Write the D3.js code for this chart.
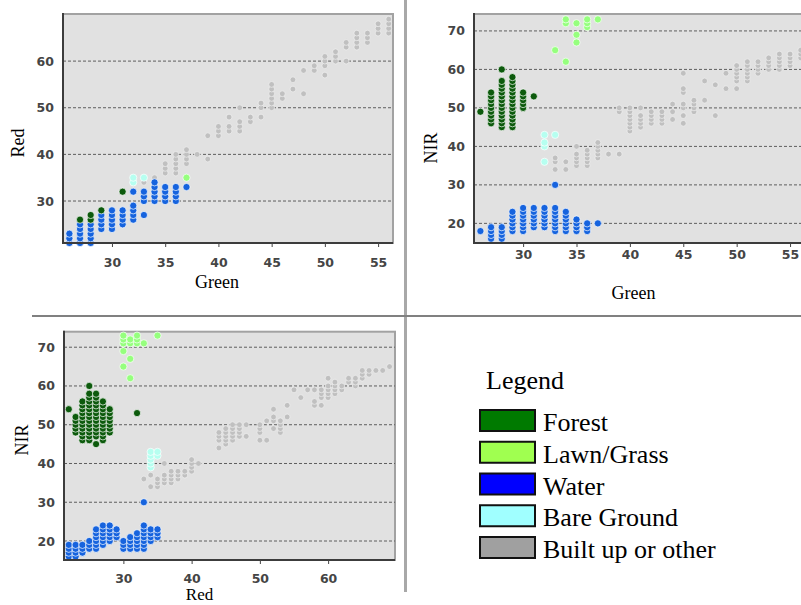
<!DOCTYPE html>
<html>
<head>
<meta charset="utf-8">
<script src="https://cdn.jsdelivr.net/npm/d3@7"></script>
<style>
  body { margin: 0; background: #fff; }
  svg { display: block; }
</style>
</head>
<body>
<svg id="viz" width="801" height="605"></svg>
<script>
// land cover classes and colours
const classes = ["Forest", "Lawn/Grass", "Water", "Bare Ground", "Built up or other"];
const legendColors = ["#007a00", "#a0ff50", "#0000ff", "#a0ffff", "#a0a0a0"];
const pointColors = ["#0b5a0b", "#96ff7e", "#1463de", "#b6fff0", "#c0c0c0"];

// each entry: [x value, [y values stacked in that column]]
// Green (x) vs Red (y)
const greenRedForest = [[27, [26]], [28, [26, 27]], [29, [28]], [31, [32]]];
const greenRedLawn = [[37, [35]]];
const greenRedWater = [[26, [21, 22, 23]], [27, [21, 22, 23, 24, 25]], [28, [21, 22, 23, 24, 25]],
  [29, [24, 25, 26, 27]], [30, [24, 25, 26, 27, 28]], [31, [25, 26, 27, 28]], [32, [26, 27, 28, 29, 32]],
  [33, [27, 30, 31, 32]], [34, [30, 31, 32, 33, 34]], [35, [30, 31, 32, 33]], [36, [30, 31, 32, 33]], [37, [33]]];
const greenRedBare = [[32, [34, 35]], [33, [35]]];
const greenRedBuilt = [[33, [34]], [34, [35]], [35, [36, 37, 38]], [36, [36, 37, 38, 39, 40]], [37, [38, 39, 40, 41]],
  [38, [40]], [39, [39, 44]], [40, [44, 45, 46]], [41, [45, 46, 48]], [42, [45, 46, 47, 50]], [43, [47, 48]],
  [44, [48, 50, 51]], [45, [50, 51, 52, 53, 54, 55]], [46, [52, 53]], [47, [54, 56]], [48, [53, 58]], [49, [58, 59]],
  [50, [57, 59, 60, 61]], [51, [60, 61, 62]], [52, [60, 63, 64]], [53, [63, 64, 65, 66]], [54, [64, 65, 66]],
  [55, [66, 67, 68]], [56, [66, 67, 68, 69]]];

// Green (x) vs NIR (y)
const greenNirForest = [[26, [49]], [27, [46, 47, 48, 49, 50, 51, 52, 53, 54]],
  [28, [45, 46, 47, 48, 49, 50, 51, 52, 53, 54, 55, 56, 57, 60]],
  [29, [45, 46, 47, 48, 49, 50, 51, 52, 53, 54, 55, 56, 57, 58]], [30, [50, 51, 52, 53, 54]], [31, [53]]];
const greenNirLawn = [[33, [65]], [34, [62, 72, 73]], [35, [67, 69, 72]], [36, [71, 72, 73]], [37, [73]]];
const greenNirWater = [[26, [18]], [27, [16, 17, 18, 19]], [28, [16, 17, 18, 19]], [29, [18, 19, 20, 21, 22, 23]],
  [30, [18, 19, 20, 21, 22, 23, 24]], [31, [19, 20, 21, 22, 23, 24]], [32, [19, 20, 21, 22, 23, 24]],
  [33, [18, 19, 20, 21, 22, 23, 24, 30]], [34, [18, 19, 20, 21, 22, 23]], [35, [18, 19, 20, 21]],
  [36, [18, 19, 20]], [37, [20]]];
const greenNirBare = [[32, [36, 40, 41, 43]], [33, [43]]];
const greenNirBuilt = [[33, [34, 36, 37]], [34, [34, 36]], [35, [35, 36, 37, 38, 40]], [36, [35, 36, 37, 38, 39]],
  [37, [37, 38, 39, 40, 41]], [38, [38]], [39, [38, 49, 50]], [40, [44, 45, 46, 47, 48, 49, 50]],
  [41, [45, 46, 47, 48, 50]], [42, [46, 47, 48, 49]], [43, [46, 47, 48, 49]], [44, [47, 49, 51]],
  [45, [46, 48, 50, 51, 54, 55, 59]], [46, [49, 50, 51, 52]], [47, [52, 57]], [48, [48, 56]], [49, [55, 59]],
  [50, [55, 57, 58, 59, 60, 61]], [51, [57, 58, 59, 60, 61, 62]], [52, [59, 60, 61, 62]], [53, [60, 61, 62, 63]],
  [54, [60, 61, 62, 63, 64]], [55, [61, 62, 63, 64]], [56, [63, 64, 65]]];

// Red (x) vs NIR (y)
const redNirForest = [[22, [54]], [23, [48, 49, 50, 51, 52]], [24, [46, 47, 48, 49, 50, 51, 52, 53, 54, 55, 56]],
  [25, [46, 47, 48, 49, 50, 51, 52, 53, 54, 55, 56, 57, 58, 60]],
  [26, [45, 47, 48, 49, 50, 51, 52, 53, 54, 55, 56, 57, 58]], [27, [46, 47, 48, 49, 50, 51, 52, 53, 54, 55, 56]],
  [28, [48, 49, 50, 51, 52, 53, 54]], [32, [53]]];
const redNirLawn = [[30, [65, 69, 71, 72, 73]], [31, [62, 67, 71, 72]], [32, [71, 72, 73]], [33, [71]], [35, [73]]];
const redNirWater = [[22, [16, 17, 18, 19]], [23, [16, 17, 18, 19]], [24, [17, 18, 19]], [25, [18, 19, 20]],
  [26, [18, 19, 20, 21, 22, 23]], [27, [19, 20, 21, 22, 23, 24]], [28, [20, 21, 22, 23, 24]], [29, [21, 22, 23]],
  [30, [18, 19, 20]], [31, [18, 19, 20, 21]], [32, [18, 19, 20, 21, 22]], [33, [18, 19, 20, 21, 22, 23, 24, 30]],
  [34, [20, 21, 22, 23]], [35, [21, 22, 23]]];
const redNirBare = [[34, [39, 40, 41, 42, 43]], [35, [42, 43]]];
const redNirBuilt = [[33, [36]], [34, [34, 37]], [35, [34, 35, 36]], [36, [35, 36, 37, 40]], [37, [35, 36, 37, 38]],
  [38, [36, 37, 38]], [39, [37, 38]], [40, [38, 39, 40, 41]], [41, [40]], [44, [44, 46, 47, 48]],
  [45, [45, 46, 47, 48, 49]], [46, [46, 47, 48, 49, 50]], [47, [47, 48, 49, 50]], [48, [47, 50]],
  [50, [46, 48, 49, 50]], [51, [46, 51]], [52, [49, 51, 52, 54]], [53, [48, 49, 50, 51]], [54, [52, 55]],
  [55, [59]], [56, [57]], [57, [59]], [58, [55, 56, 59]], [59, [55, 57, 58, 59]], [60, [57, 58, 59, 60, 62]],
  [61, [58, 59, 60, 61]], [62, [59, 60]], [63, [61, 62]], [64, [60, 61, 62]], [65, [62, 63, 64]], [66, [63, 64]],
  [67, [64]], [68, [64]], [69, [65]]];

// tick values
const greenTicks = [30, 35, 40, 45, 50, 55];
const redTicksY = [30, 40, 50, 60];
const nirTicks = [20, 30, 40, 50, 60, 70];
const redTicksX = [30, 40, 50, 60];

const svg = d3.select("#viz");

const defs = svg.append("defs");
defs.append("filter").attr("id", "soft")
  .append("feGaussianBlur").attr("stdDeviation", 0.5);

// separators between panels
svg.append("line")
  .attr("x1", 405.5).attr("x2", 405.5).attr("y1", 0).attr("y2", 592)
  .attr("stroke", "#a8a8a8").attr("stroke-width", 3);
svg.append("line")
  .attr("x1", 32).attr("x2", 801).attr("y1", 316).attr("y2", 316)
  .attr("stroke", "#808080").attr("stroke-width", 2);

function drawPanel(p) {
  const x = d3.scaleLinear().domain(p.xDomain).range([p.left, p.right]);
  const y = d3.scaleLinear().domain(p.yDomain).range([p.bottom, p.top]);
  const g = svg.append("g");

  g.append("rect")
    .attr("x", p.left).attr("y", p.top)
    .attr("width", p.right - p.left).attr("height", p.bottom - p.top)
    .attr("fill", "#e1e1e1")
    .attr("stroke", "#a2a2a2").attr("stroke-width", 2);

  // dashed grid lines
  g.selectAll(".grid")
    .data(p.yTicks)
    .enter().append("line")
    .attr("x1", p.left).attr("x2", p.right)
    .attr("y1", d => y(d)).attr("y2", d => y(d))
    .attr("stroke", "#5e5e5e").attr("stroke-width", 1)
    .attr("stroke-dasharray", "3,2");

  // points
  const pts = g.append("g").attr("filter", "url(#soft)");
  p.series.forEach((cols, ci) => {
    const flat = [];
    cols.forEach(c => c[1].forEach(v => flat.push([c[0], v])));
    const cls = p.order[ci];
    pts.selectAll(null)
      .data(flat)
      .enter().append("circle")
      .attr("cx", d => x(d[0]))
      .attr("cy", d => y(d[1]))
      .attr("r", cls === 4 ? 2.9 : 3.6)
      .attr("fill", pointColors[cls])
      .attr("stroke", cls === 4 ? "#f0f0f0" : "#ffffff")
      .attr("stroke-width", 0.7);
  });

  // axis lines
  g.append("line")
    .attr("x1", p.left).attr("x2", p.left).attr("y1", p.top - 1).attr("y2", p.bottom + 1)
    .attr("stroke", "#3c3c3c").attr("stroke-width", 2);
  g.append("line")
    .attr("x1", p.left - 1).attr("x2", p.right).attr("y1", p.bottom).attr("y2", p.bottom)
    .attr("stroke", "#3c3c3c").attr("stroke-width", 2);

  const xAxis = g.append("g")
    .attr("transform", `translate(0, ${p.bottom})`)
    .call(d3.axisBottom(x).tickValues(p.xTicks).tickSize(4).tickPadding(p.xPad));
  const yAxis = g.append("g")
    .attr("transform", `translate(${p.left}, 0)`)
    .call(d3.axisLeft(y).tickValues(p.yTicks).tickSize(0).tickPadding(9));

  [xAxis, yAxis].forEach(a => {
    a.select(".domain").remove();
    a.selectAll(".tick line").attr("stroke", "#444");
    a.selectAll("text")
      .attr("fill", "#454545")
      .style("font-family", "'DejaVu Sans', sans-serif")
      .style("font-weight", "bold")
      .style("font-size", "12.5px");
  });

  // axis titles
  g.append("text")
    .attr("x", (p.left + Math.min(p.right, 801)) / 2 + p.xTitleShift)
    .attr("y", p.xTitleY)
    .attr("text-anchor", "middle")
    .style("font-family", "'Liberation Serif', 'Times New Roman', serif")
    .style("font-size", p.xTitleSize)
    .text(p.xTitle);
  g.append("text")
    .attr("transform", `translate(${p.yTitleX}, ${p.yTitleCy}) rotate(-90)`)
    .attr("text-anchor", "middle")
    .style("font-family", "'Liberation Serif', 'Times New Roman', serif")
    .style("font-size", "18px")
    .text(p.yTitle);
}

drawPanel({
  left: 63, right: 393, top: 14, bottom: 243,
  xDomain: [25.4, 56.4], yDomain: [21, 70.1],
  xTicks: greenTicks, yTicks: redTicksY, xPad: 11,
  series: [greenRedBuilt, greenRedBare, greenRedLawn, greenRedWater, greenRedForest],
  order: [4, 3, 1, 2, 0],
  xTitle: "Green", xTitleY: 288, xTitleShift: -11, xTitleSize: "18px",
  yTitle: "Red", yTitleX: 24, yTitleCy: 143
});

drawPanel({
  left: 474, right: 805, top: 14, bottom: 243,
  xDomain: [25.4, 56.4], yDomain: [14.9, 74.4],
  xTicks: greenTicks, yTicks: nirTicks, xPad: 3,
  series: [greenNirBuilt, greenNirBare, greenNirLawn, greenNirWater, greenNirForest],
  order: [4, 3, 1, 2, 0],
  xTitle: "Green", xTitleY: 299, xTitleShift: -4, xTitleSize: "18px",
  yTitle: "NIR", yTitleX: 437, yTitleCy: 148
});

drawPanel({
  left: 64, right: 395, top: 331.7, bottom: 560,
  xDomain: [21.3, 69.8], yDomain: [15.1, 74],
  xTicks: redTicksX, yTicks: nirTicks, xPad: 10,
  series: [redNirBuilt, redNirBare, redNirLawn, redNirWater, redNirForest],
  order: [4, 3, 1, 2, 0],
  xTitle: "Red", xTitleY: 600, xTitleShift: -30, xTitleSize: "17px",
  yTitle: "NIR", yTitleX: 28, yTitleCy: 440
});

// legend
const legend = svg.append("g");
legend.append("text")
  .attr("x", 486).attr("y", 389)
  .style("font-family", "'Liberation Serif', 'Times New Roman', serif")
  .style("font-size", "26px")
  .text("Legend");

const rowY = d3.scalePoint().domain(classes).range([410, 537]);
const rows = legend.selectAll(".row")
  .data(classes)
  .enter().append("g")
  .attr("transform", d => `translate(0, ${rowY(d)})`);
rows.append("rect")
  .attr("x", 480).attr("y", 0)
  .attr("width", 55).attr("height", 21)
  .attr("fill", (d, i) => legendColors[i])
  .attr("stroke", "#111").attr("stroke-width", 2);
rows.append("text")
  .attr("x", 543).attr("y", 21)
  .style("font-family", "'Liberation Serif', 'Times New Roman', serif")
  .style("font-size", "26px")
  .text(d => d);
</script>
</body>
</html>
